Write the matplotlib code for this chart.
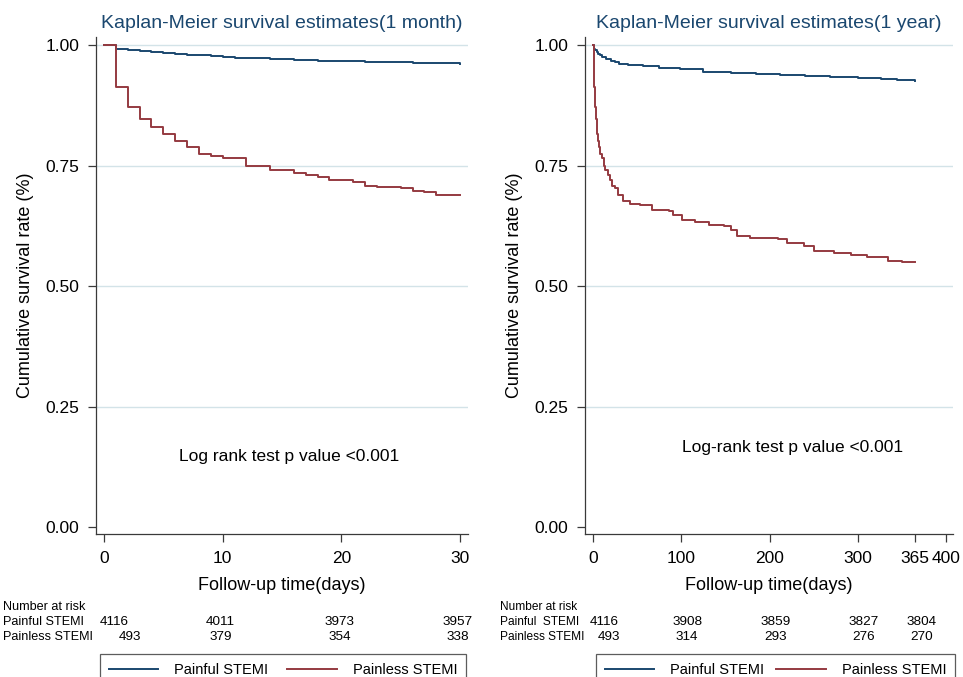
import numpy as np
import matplotlib
matplotlib.use('Agg')
import matplotlib.pyplot as plt
import matplotlib.transforms as mtransforms

plt.rcParams['font.family'] = ['Liberation Sans', 'DejaVu Sans']

# --- data -----------------------------------------------------------------
# 1 month follow-up
month_painful_days = [0, 1, 2, 3, 4, 5, 6, 7, 8, 9, 10, 11, 12, 13, 14, 15, 16,
                      17, 18, 19, 20, 21, 22, 23, 24, 25, 26, 27, 28, 29, 30]
month_painful_surv = [1.0, 0.9925, 0.990, 0.988, 0.986, 0.984, 0.982, 0.980,
                      0.979, 0.977, 0.9755, 0.974, 0.973, 0.972, 0.971, 0.970,
                      0.969, 0.968, 0.967, 0.967, 0.966, 0.966, 0.965, 0.965,
                      0.964, 0.964, 0.963, 0.963, 0.962, 0.962, 0.961]
month_painless_days = [0, 1, 2, 3, 4, 5, 6, 7, 8, 9, 10, 12, 14, 16, 17, 18,
                       19, 21, 22, 23, 25, 26, 27, 28, 30]
month_painless_surv = [1.0, 0.9135, 0.8707, 0.847, 0.829, 0.815, 0.801, 0.788,
                       0.773, 0.770, 0.766, 0.750, 0.741, 0.735, 0.731, 0.727,
                       0.719, 0.716, 0.708, 0.705, 0.703, 0.698, 0.694, 0.689,
                       0.688]

# 1 year follow-up
year_painful_days = [0, 1, 2, 4, 6, 8, 10, 15, 20, 25, 30, 40, 57, 75, 99, 125,
                     156, 185, 212, 240, 269, 300, 326, 345, 365]
year_painful_surv = [1.0, 0.9925, 0.990, 0.986, 0.982, 0.979, 0.975, 0.970,
                     0.966, 0.964, 0.961, 0.959, 0.956, 0.953, 0.9495, 0.945,
                     0.941, 0.939, 0.938, 0.936, 0.934, 0.931, 0.929, 0.927,
                     0.925]
year_painless_days = [0, 1, 2, 3, 4, 5, 6, 7, 8, 10, 12, 14, 17, 19, 22, 25, 28,
                      34, 42, 53, 67, 86, 91, 101, 116, 131, 148, 156, 163, 178,
                      210, 220, 239, 250, 273, 292, 311, 334, 350, 365]
year_painless_surv = [1.0, 0.9135, 0.8707, 0.847, 0.829, 0.815, 0.801, 0.788,
                      0.773, 0.766, 0.750, 0.741, 0.731, 0.719, 0.708, 0.703,
                      0.689, 0.677, 0.670, 0.669, 0.658, 0.656, 0.647, 0.637,
                      0.633, 0.626, 0.624, 0.616, 0.604, 0.599, 0.597, 0.589,
                      0.583, 0.573, 0.569, 0.564, 0.560, 0.552, 0.549, 0.549]

# number at risk
month_risk_days = [0, 10, 20, 30]
month_risk_painful = [4116, 4011, 3973, 3957]
month_risk_painless = [493, 379, 354, 338]
year_risk_days = [0, 100, 200, 300, 365]
year_risk_painful = [4116, 3908, 3859, 3827, 3804]
year_risk_painless = [493, 314, 293, 276, 270]

month_row_labels = ['Number at risk', 'Painful STEMI', 'Painless STEMI']
year_row_labels = ['Number at risk', 'Painful  STEMI', 'Painless STEMI']

month_xticks = [0, 10, 20, 30]
year_xticks = [0, 100, 200, 300, 365, 400]
yticks = [0.0, 0.25, 0.5, 0.75, 1.0]

# --- styles ---------------------------------------------------------------
BLUE = '#1a476f'
RED = '#953a40'
GRID = '#d3e3e8'
AXC = '#3a3a3a'

W, H = 963, 677
fig = plt.figure(figsize=(W / 100, H / 100), dpi=100)

def px_axes(x0, x1, y0, y1):
    # y0 = top pixel, y1 = bottom pixel
    return fig.add_axes([x0 / W, 1 - y1 / H, (x1 - x0) / W, (y1 - y0) / H])

ax1 = px_axes(96, 468, 37, 534)
ax2 = px_axes(585, 953, 37, 534)


def style(ax, xticks, xlim, title, note, note_xy):
    ax.set_ylim(-0.0145, 1.0166)
    ax.set_xlim(*xlim)
    ax.set_yticks(yticks)
    ax.set_yticklabels(['%.2f' % v for v in yticks])
    ax.set_xticks(xticks)
    for v in yticks[1:]:
        ax.axhline(v, color=GRID, lw=1.0, zorder=0)
    for s in ['top', 'right']:
        ax.spines[s].set_visible(False)
    for s in ['left', 'bottom']:
        ax.spines[s].set_color(AXC)
        ax.spines[s].set_linewidth(0.9)
    ax.tick_params(direction='out', length=6, width=0.9, color=AXC,
                   labelsize=12.5, pad=6)
    ax.set_title(title, color=BLUE, fontsize=14, pad=6.5)
    ax.set_xlabel('Follow-up time(days)', fontsize=13, labelpad=8)
    ax.set_ylabel('Cumulative survival rate (%)', fontsize=13, labelpad=8.5)
    ax.text(note_xy[0], note_xy[1], note, fontsize=12.5, ha='center',
            va='center')


# left panel: 1 month
ax1.step(month_painful_days, month_painful_surv, where='post', color=BLUE,
         lw=1.4, label='Painful STEMI')
ax1.step(month_painless_days, month_painless_surv, where='post', color=RED,
         lw=1.4, label='Painless STEMI')
style(ax1, month_xticks, (-0.674, 30.67),
      'Kaplan-Meier survival estimates(1 month)',
      'Log rank test p value <0.001', (15.6, 0.147))

# right panel: 1 year
ax2.step(year_painful_days, year_painful_surv, where='post', color=BLUE,
         lw=1.4, label='Painful STEMI')
ax2.step(year_painless_days, year_painless_surv, where='post', color=RED,
         lw=1.4, label='Painless STEMI')
style(ax2, year_xticks, (-9.07, 407.9),
      'Kaplan-Meier survival estimates(1 year)',
      'Log-rank test p value <0.001', (226, 0.164))


# number at risk tables
def risk_table(ax, label_x, labels, label_fs, days, painful, painless,
               first_dx, other_dx):
    trans = mtransforms.blended_transform_factory(ax.transData, fig.transFigure)
    fs = 9.7
    for lab, ypx in zip(labels, [607, 622, 637]):
        fig.text(label_x / W, 1 - ypx / H, lab, fontsize=label_fs,
                 va='center')
    for i, d in enumerate(days):
        dx_a, dx_b = first_dx if i == 0 else (other_dx, other_dx)
        ax.annotate(str(painful[i]), xy=(d, 1 - 622 / H), xycoords=trans,
                    xytext=(dx_a, 0), textcoords='offset pixels', ha='center',
                    va='center', fontsize=fs, annotation_clip=False)
        ax.annotate(str(painless[i]), xy=(d, 1 - 637 / H), xycoords=trans,
                    xytext=(dx_b, 0), textcoords='offset pixels', ha='center',
                    va='center', fontsize=fs, annotation_clip=False)


risk_table(ax1, 3, month_row_labels, 9.1, month_risk_days,
           month_risk_painful, month_risk_painless, (10, 26), -2)
risk_table(ax2, 500, year_row_labels, 8.6, year_risk_days,
           year_risk_painful, year_risk_painless, (11, 16), 6)


# legends, cut off at the bottom edge as in the source image
def add_legend(ax, x0, x1):
    h, l = ax.get_legend_handles_labels()
    leg = fig.legend(h, l, ncol=2, loc='upper left', mode='expand',
                     bbox_to_anchor=(x0 / W, 0, (x1 - x0) / W, 1 - 654 / H),
                     frameon=True, fancybox=False, edgecolor='#333333',
                     fontsize=10.5, handlelength=3.4, handletextpad=1.1,
                     borderaxespad=0, borderpad=0.6)
    leg.get_frame().set_linewidth(0.9)
    return leg


add_legend(ax1, 100, 466)
add_legend(ax2, 596, 955)

fig.savefig('out.png', dpi=100)
